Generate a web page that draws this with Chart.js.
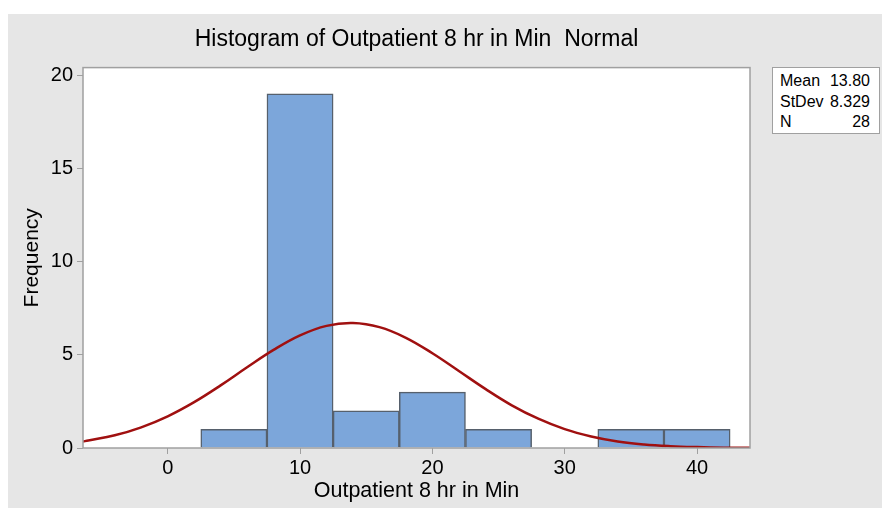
<!DOCTYPE html>
<html>
<head>
<meta charset="utf-8">
<script src="https://cdn.jsdelivr.net/npm/chart.js@4.4.0/dist/chart.umd.min.js"></script>
<style>
  body { margin: 0; background: #fff; font-family: "Liberation Sans", Arial, sans-serif; }
  #bg { position: absolute; left: 8px; top: 14px; right: 0; bottom: 0; background: #e6e6e6; }
  #wrap { position: absolute; left: 0; top: 0; width: 882px; height: 508px; }
  #stats {
    position: absolute; left: 772px; top: 67px; width: 108px; height: 67px;
    background: #fff; border: 1px solid #a0a0a0; box-sizing: border-box;
    font-size: 16px; color: #000; padding: 3px 9px 0 7px; line-height: 20.5px;
  }
  #stats div { display: flex; justify-content: space-between; }
</style>
</head>
<body>
<div id="bg"></div>
<div id="wrap"><canvas id="hist" width="882" height="508"></canvas></div>
<div id="stats">
  <div><span>Mean</span><span>13.80</span></div>
  <div><span>StDev</span><span>8.329</span></div>
  <div><span>N</span><span>28</span></div>
</div>
<script>
// Histogram bins (centre of each 5-minute bin) and counts
const binCenters = [5, 10, 15, 20, 25, 30, 35, 40];
const counts = [1, 19, 2, 3, 1, null, 1, 1];

// Fitted normal curve
const curveX = [-6.4, -6, -4, -2, 0, 2, 4, 6, 8, 10, 12, 14, 16, 18, 20, 22, 24, 26, 28, 30, 32, 34, 36, 38, 40, 42, 44];
const curveY = [0.35, 0.40, 0.68, 1.11, 1.70, 2.46, 3.36, 4.33, 5.26, 6.04, 6.55, 6.70, 6.48, 5.91, 5.08, 4.13, 3.17, 2.29, 1.57, 1.01, 0.62, 0.35, 0.19, 0.10, 0.05, 0.02, 0.01];

// Tick labels
const xTicks = [0, 10, 20, 30, 40];
const yTicks = [0, 5, 10, 15, 20];

const FONT = "'Liberation Sans', Arial, sans-serif";

// plot frame around the chart area
const framePlugin = {
    id: 'frame',
    afterDatasetsDraw(chart) {
        const a = chart.chartArea, ctx = chart.ctx;
        ctx.save();
        ctx.strokeStyle = '#a0a0a0';
        ctx.lineWidth = 1.5;
        ctx.strokeRect(a.left, a.top, a.right - a.left, a.bottom - a.top);
        ctx.restore();
    }
};

// white plot background
const plotBg = {
    id: 'plotBg',
    beforeDraw(chart) {
        const a = chart.chartArea, ctx = chart.ctx;
        ctx.save();
        ctx.fillStyle = '#fff';
        ctx.fillRect(a.left, a.top, a.right - a.left, a.bottom - a.top);
        ctx.restore();
    }
};

const ctx = document.getElementById('hist').getContext('2d');
new Chart(ctx, {
    data: {
        datasets: [
            {
                type: 'line',
                data: curveX.map((x, i) => ({ x: x, y: curveY[i] })),
                borderColor: '#a01010',
                borderWidth: 2.5,
                pointRadius: 0,
                tension: 0.4,
                fill: false,
                order: 0
            },
            {
                type: 'bar',
                data: binCenters.map((x, i) => ({ x: x, y: counts[i] })),
                backgroundColor: '#7ca6da',
                borderColor: '#56606c',
                borderWidth: 1.5,
                barPercentage: 1,
                categoryPercentage: 1,
                order: 1
            }
        ]
    },
    options: {
        responsive: false,
        animation: false,
        layout: { padding: { left: 0, right: 132, top: 0, bottom: 0 } },
        plugins: {
            legend: { display: false },
            tooltip: { enabled: false },
            title: {
                display: true,
                fullSize: false,
                text: 'Histogram of Outpatient 8 hr in Min  Normal',
                color: '#000',
                font: { family: FONT, size: 23, weight: 'normal' },
                padding: { top: 26, bottom: 14 }
            }
        },
        scales: {
            x: {
                type: 'linear',
                min: -6.4,
                max: 44,
                offset: false,
                afterBuildTicks: s => { s.ticks = xTicks.map(v => ({ value: v })); },
                afterFit: s => { s.height = 60; },
                grid: { drawOnChartArea: false, offset: false, color: '#a0a0a0', tickLength: 6, tickColor: '#a0a0a0' },
                border: { display: false },
                ticks: { color: '#000', font: { family: FONT, size: 20 }, padding: 2, maxRotation: 0 },
                title: {
                    display: true, text: 'Outpatient 8 hr in Min', color: '#000',
                    font: { family: FONT, size: 21.5 }, padding: { top: 0, bottom: 4 }
                }
            },
            y: {
                min: 0,
                max: 20.4,
                afterBuildTicks: s => { s.ticks = yTicks.map(v => ({ value: v })); },
                afterFit: s => { s.width = 83; },
                grid: { drawOnChartArea: false, color: '#a0a0a0', tickLength: 6, tickColor: '#a0a0a0' },
                border: { display: false },
                ticks: { color: '#000', font: { family: FONT, size: 20 }, padding: 4 },
                title: {
                    display: true, text: 'Frequency', color: '#000',
                    font: { family: FONT, size: 21 }, padding: { top: 20, bottom: 0 }
                }
            }
        }
    },
    plugins: [plotBg, framePlugin]
});
</script>
</body>
</html>
